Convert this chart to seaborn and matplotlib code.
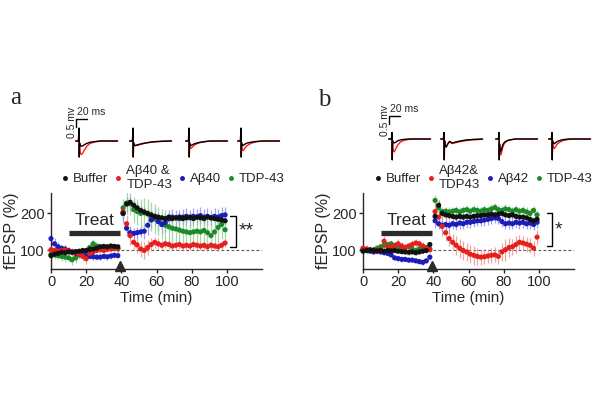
import numpy as np
import pandas as pd
import matplotlib
matplotlib.use("Agg")
import matplotlib.pyplot as plt
import seaborn as sns
from matplotlib.lines import Line2D

# ---------------------------------------------------------------
# Data (fEPSP %, every 2 min)
# ---------------------------------------------------------------
t_pre = np.arange(0, 40, 2)      # baseline / treatment
t_post = np.arange(41, 101, 2)   # after HFS

groups_a = ["Buffer", "Aβ40 &\nTDP-43", "Aβ40", "TDP-43"]
groups_b = ["Buffer", "Aβ42&\nTDP43", "Aβ42", "TDP-43"]

a_buffer = [86, 90, 92, 95, 94, 96, 95, 97, 98, 100, 100, 103, 104, 106, 110, 111, 110, 112, 111, 110,
            200, 225, 230, 222, 215, 208, 204, 200, 196, 192, 190, 188, 186, 190, 186, 188, 190, 186, 188, 190,
            186, 190, 188, 186, 190, 188, 186, 184, 182, 180]
a_red = [102, 100, 98, 100, 101, 99, 96, 94, 90, 84, 78, 92, 96, 100, 102, 100, 103, 104, 106, 105,
         205, 172, 140, 122, 115, 104, 100, 108, 116, 122, 118, 114, 118, 116, 112, 114, 116, 112, 114, 112,
         116, 114, 112, 114, 110, 114, 112, 110, 114, 120]
a_blue = [132, 118, 110, 106, 104, 100, 96, 92, 90, 88, 86, 84, 83, 82, 82, 84, 83, 85, 87, 86,
          200, 160, 148, 146, 148, 150, 152, 168, 182, 190, 178, 170, 175, 185, 190, 188, 186, 190, 192, 188,
          192, 190, 194, 190, 192, 188, 192, 190, 194, 196]
a_green = [90, 88, 86, 84, 82, 80, 75, 80, 88, 92, 96, 108, 118, 112, 106, 104, 108, 110, 106, 104,
           215, 228, 226, 210, 205, 200, 202, 198, 192, 185, 178, 172, 168, 164, 160, 158, 155, 152, 150, 148,
           150, 152, 150, 154, 148, 140, 150, 162, 170, 156]

a_buffer_err = [8, 8, 8, 6, 6, 6, 6, 6, 6, 6, 6, 6, 6, 6, 6, 6, 6, 6, 6, 6,
                15, 20, 18, 15, 15, 12, 12, 12, 12, 12, 10, 10, 10, 10, 10, 10, 10, 10, 10, 10,
                10, 10, 10, 10, 10, 10, 10, 10, 10, 10]
a_red_err = [8, 8, 8, 8, 8, 8, 10, 10, 10, 12, 14, 10, 8, 8, 8, 8, 8, 8, 8, 8,
             20, 25, 25, 22, 22, 22, 22, 20, 18, 15, 15, 12, 12, 12, 12, 12, 12, 12, 12, 12,
             12, 12, 12, 12, 12, 12, 12, 12, 12, 12]
a_blue_err = [15, 15, 12, 10, 10, 10, 8, 8, 8, 8, 8, 8, 8, 8, 8, 8, 8, 8, 6, 6,
              25, 20, 15, 15, 15, 15, 20, 25, 25, 25, 25, 25, 25, 25, 22, 22, 22, 22, 22, 22,
              22, 22, 22, 22, 22, 22, 22, 22, 22, 22]
a_green_err = [10, 10, 10, 12, 12, 12, 15, 15, 12, 12, 12, 12, 12, 12, 12, 12, 10, 10, 10, 10,
               25, 30, 30, 35, 35, 40, 40, 40, 40, 40, 40, 40, 40, 40, 40, 40, 40, 40, 40, 40,
               40, 40, 40, 40, 40, 40, 40, 40, 40, 40]

b_buffer = [98, 100, 101, 100, 99, 100, 98, 100, 99, 100, 98, 97, 96, 95, 96, 94, 96, 98, 100, 116,
            192, 222, 200, 196, 194, 192, 190, 192, 190, 192, 190, 192, 194, 194, 196, 196, 198, 196, 198, 200,
            196, 194, 196, 192, 190, 190, 188, 184, 180, 184]
b_red = [106, 104, 102, 100, 100, 104, 125, 112, 108, 114, 118, 112, 108, 112, 116, 120, 118, 112, 106, 102,
         205, 190, 165, 148, 132, 122, 114, 106, 100, 96, 90, 87, 84, 82, 83, 85, 87, 88, 84, 96,
         102, 108, 110, 116, 122, 120, 117, 114, 106, 136]
b_blue = [102, 100, 98, 96, 98, 96, 94, 92, 88, 80, 78, 76, 76, 74, 74, 72, 70, 68, 72, 82,
          180, 172, 168, 170, 168, 172, 170, 174, 172, 176, 176, 178, 180, 180, 182, 184, 186, 188, 186, 178,
          172, 174, 172, 176, 174, 176, 172, 174, 170, 176]
b_green = [104, 102, 100, 102, 106, 110, 114, 116, 118, 112, 108, 106, 108, 110, 104, 100, 104, 110, 108, 104,
           235, 215, 205, 206, 204, 206, 208, 204, 208, 210, 206, 210, 208, 206, 210, 208, 212, 216, 210, 208,
           212, 210, 206, 210, 206, 208, 204, 200, 208, 196]

b_buffer_err = [6, 6, 6, 6, 6, 6, 6, 6, 6, 6, 6, 6, 6, 6, 6, 6, 6, 6, 6, 8,
                12, 15, 12, 10, 10, 10, 10, 10, 10, 10, 10, 10, 10, 10, 10, 10, 10, 10, 10, 10,
                10, 10, 10, 10, 10, 10, 10, 10, 10, 10]
b_red_err = [10, 10, 10, 10, 10, 12, 15, 12, 10, 10, 12, 10, 10, 10, 12, 12, 10, 10, 10, 10,
             25, 30, 25, 22, 20, 22, 25, 25, 25, 25, 25, 25, 22, 22, 20, 20, 20, 20, 20, 25,
             30, 25, 22, 22, 20, 20, 20, 20, 20, 20]
b_blue_err = [6, 6, 6, 6, 6, 6, 6, 6, 6, 6, 6, 6, 6, 6, 6, 6, 6, 6, 6, 8,
              20, 15, 15, 15, 15, 15, 15, 15, 15, 15, 15, 15, 15, 15, 15, 15, 15, 15, 15, 15,
              15, 15, 15, 15, 15, 15, 15, 15, 15, 15]
b_green_err = [8, 8, 8, 8, 8, 10, 10, 10, 10, 10, 8, 8, 8, 8, 8, 8, 8, 8, 8, 8,
               15, 15, 12, 12, 12, 12, 12, 12, 12, 12, 12, 12, 12, 12, 12, 12, 12, 12, 12, 12,
               12, 12, 12, 12, 12, 12, 12, 12, 12, 12]

# example fEPSP traces (mV vs ms), black = before, red = after
trace_ms = [-6, -1, 0, 0.5, 1, 2, 4, 7, 10, 15, 20, 30, 40, 55, 70]
a_traces_black = [
    [0, 0, 0.8, -1.0, -0.1, -0.25, -0.33, -0.3, -0.22, -0.14, -0.08, -0.03, 0, 0, 0],
    [0, 0, 0.8, -1.0, -0.1, -0.25, -0.28, -0.25, -0.22, -0.18, -0.14, -0.08, -0.04, -0.01, 0],
    [0, 0, 0.8, -1.0, -0.1, -0.25, -0.28, -0.22, -0.17, -0.12, -0.08, -0.03, 0, 0, 0],
    [0, 0, 0.8, -1.0, -0.1, -0.25, -0.28, -0.2, -0.14, -0.1, -0.06, -0.02, 0, 0, 0],
]
a_traces_red = [
    [0, 0, 0.8, -1.0, -0.3, -0.7, -0.85, -0.75, -0.55, -0.3, -0.15, -0.05, 0, 0, 0],
    [0, 0, 0.8, -1.0, -0.1, -0.25, -0.3, -0.28, -0.25, -0.2, -0.15, -0.09, -0.05, -0.02, 0],
    [0, 0, 0.8, -1.0, -0.15, -0.42, -0.45, -0.35, -0.25, -0.16, -0.1, -0.04, 0, 0, 0],
    [0, 0, 0.8, -1.0, -0.2, -0.55, -0.6, -0.45, -0.32, -0.2, -0.12, -0.04, 0, 0, 0],
]
b_traces_black = [
    [0, 0, 0.4, -1.3, -0.1, -0.2, -0.25, -0.2, -0.12, -0.06, -0.03, 0, 0, 0, 0],
    [0, 0, 0.4, -1.3, -0.1, -0.4, -0.5, -0.3, -0.15, -0.25, -0.2, -0.12, -0.06, -0.02, 0],
    [0, 0, 0.4, -1.3, -0.3, -0.8, -0.7, -0.35, -0.2, -0.1, -0.05, 0, 0, 0, 0],
    [0, 0, 0.4, -1.3, -0.1, -0.25, -0.3, -0.22, -0.15, -0.08, -0.04, 0, 0, 0, 0],
]
b_traces_red = [
    [0, 0, 0.4, -1.3, -0.2, -0.7, -0.8, -0.6, -0.4, -0.2, -0.1, -0.03, 0, 0, 0],
    [0, 0, 0.4, -1.3, -0.1, -0.4, -0.5, -0.3, -0.18, -0.28, -0.24, -0.16, -0.1, -0.05, -0.02],
    [0, 0, 0.4, -1.3, -0.4, -1.0, -0.95, -0.5, -0.25, -0.12, -0.06, 0, 0, 0, 0],
    [0, 0, 0.4, -1.3, -0.2, -0.5, -0.6, -0.45, -0.3, -0.18, -0.1, -0.03, 0, 0, 0],
]

colors = ["#111111", "#e3201b", "#1c1cb8", "#1d8a2a"]
err_colors = ["#7a7a7a", "#f28a8a", "#8c8cf0", "#8fd08f"]

# ---------------------------------------------------------------
# Figure
# ---------------------------------------------------------------
sns.set_style("ticks")
plt.rcParams["font.family"] = ["Liberation Sans", "DejaVu Sans"]
plt.rcParams["axes.linewidth"] = 1.0

fig = plt.figure(figsize=(6, 4.04), dpi=100)
W, H = 600, 404


def px_axes(left, top, width, height):
    return fig.add_axes([left / W, 1 - (top + height) / H, width / W, height / H])


def time_panel(ax, groups, series, errors, bracket_x, stars):
    times = np.concatenate([t_pre, t_post])
    rows = []
    for g, vals in zip(groups, series):
        rows.append(pd.DataFrame({"time": times, "value": vals, "group": g}))
    df = pd.concat(rows, ignore_index=True)

    for vals, err, ec in zip(series, errors, err_colors):
        ax.errorbar(times, vals, yerr=err, fmt="none", ecolor=ec, elinewidth=0.9,
                    alpha=0.8, zorder=2)
    order = [3, 2, 1, 0]
    df["z"] = df["group"].map({groups[i]: k for k, i in enumerate(order)})
    df = df.sort_values(["z", "time"])
    sns.scatterplot(data=df, x="time", y="value", hue="group", hue_order=groups,
                    palette=colors, s=14, linewidth=0, legend=False, ax=ax, zorder=3,
                    clip_on=False)

    ax.axhline(100, ls=(0, (2.5, 2)), color="#555555", lw=0.8, zorder=1)
    ax.plot([10, 39.5], [148, 148], color="#2b2b2b", lw=3.8, solid_capstyle="butt")
    ax.text(24.5, 161, "Treat", ha="center", va="bottom", fontsize=12.5)
    ax.plot([39], [57], marker="^", ms=7, color="#2b2b2b", clip_on=False, zorder=4)

    bx, y0, y1 = bracket_x
    ax.plot([bx - 3, bx, bx, bx - 3], [y1, y1, y0, y0], color="black", lw=1.0, clip_on=False)
    ax.text(bx + 1.5, (y0 + y1) / 2, stars, ha="left", va="center", fontsize=14)

    ax.set_xlim(0, 120)
    ax.set_ylim(50, 255)
    ax.set_xticks([0, 20, 40, 60, 80, 100])
    ax.set_yticks([100, 200])
    ax.set_xlabel("Time (min)", fontsize=11, labelpad=1)
    ax.set_ylabel("fEPSP (%)", fontsize=11.5, labelpad=1)
    ax.tick_params(labelsize=10.5, length=3, width=1, pad=1.5)
    sns.despine(ax=ax)


def traces(arts, base, blacks, reds, art_scale):
    sx, sy = 0.55, 16.0
    xl, xr, yb, yt = -8, 78, -1.6, 1.7
    for i, (art, blk, red) in enumerate(zip(arts, blacks, reds)):
        tax = px_axes(art + xl * sx, base - yt * sy, (xr - xl) * sx, (yt - yb) * sy)
        tax.plot(trace_ms, red, color="#ff1a1a", lw=1.0)
        tax.plot(trace_ms, blk, color="black", lw=1.0)
        tax.set_xlim(xl, xr)
        tax.set_ylim(yb, yt)
        tax.axis("off")
        if i == 0:
            top = art_scale
            tax.plot([-5, -5, 15], [top - 0.5, top, top], color="black", lw=1.0)
            tax.text(-3, top + 0.12, "20 ms", fontsize=7.5, ha="left", va="bottom")
            tax.text(-13, top - 0.25, "0.5 mv", fontsize=7.5, rotation=90,
                     ha="center", va="center")


ax_a = px_axes(51, 193, 211, 76)
ax_b = px_axes(363, 193, 211, 76)

time_panel(ax_a, groups_a, [a_buffer, a_red, a_blue, a_green],
           [a_buffer_err, a_red_err, a_blue_err, a_green_err], (105, 110, 193), "**")
time_panel(ax_b, groups_b, [b_buffer, b_red, b_blue, b_green],
           [b_buffer_err, b_red_err, b_blue_err, b_green_err], (107.5, 113, 200), "*")

traces([79, 133, 189, 241], 141, a_traces_black, a_traces_red, 1.38)
traces([392, 444, 499, 552], 139, b_traces_black, b_traces_red, 1.44)

for groups, cx in [(groups_a, 174 / W), (groups_b, 484 / W)]:
    handles = [Line2D([], [], ls="none", marker="o", ms=2.5, color=c) for c in colors]
    fig.legend(handles, groups, loc="center", bbox_to_anchor=(cx, 1 - 178 / H), ncol=4,
               frameon=False, fontsize=9.5, handletextpad=0.45, columnspacing=0.6,
               handlelength=0.3, labelspacing=0.1, borderpad=0)

fig.text(10 / W, 1 - 104 / H, "a", fontsize=18, family=["Liberation Serif", "DejaVu Serif"])
fig.text(318 / W, 1 - 106 / H, "b", fontsize=18, family=["Liberation Serif", "DejaVu Serif"])

fig.savefig("out.png", dpi=100)
